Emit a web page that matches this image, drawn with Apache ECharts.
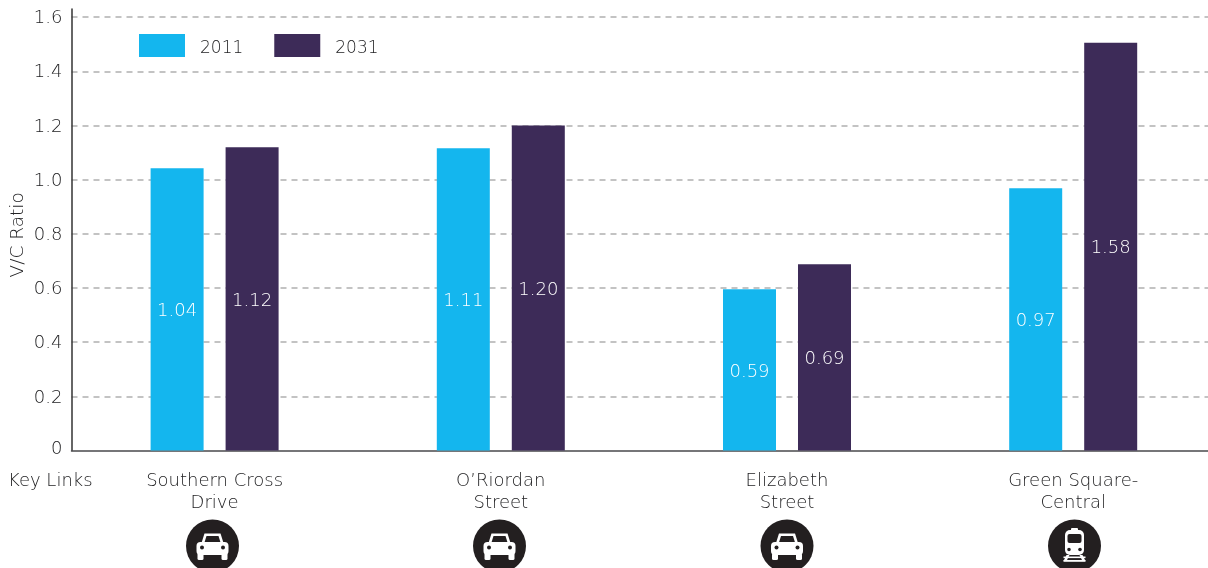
<!DOCTYPE html>
<html><head><meta charset="utf-8">
<style>html,body{margin:0;padding:0;background:#fff;overflow:hidden}#c{width:1208px;height:568px}</style>
<script src="https://cdn.jsdelivr.net/npm/echarts@6/dist/echarts.min.js"></script>
</head><body><div id="c"></div>
<script>
const categories = ["Southern Cross\nDrive", "O\u2019Riordan\nStreet", "Elizabeth\nStreet", "Green Square-\nCentral"];
const iconTypes = ["car", "car", "car", "train"];
const values2011 = [1.042, 1.116, 0.596, 0.968];
const values2031 = [1.12, 1.2, 0.688, 1.505];
const labels2011 = ["1.04", "1.11", "0.59", "0.97"];
const labels2031 = ["1.12", "1.20", "0.69", "1.58"];
const FONT = "'DejaVu Sans', sans-serif";
const WEIGHT = 200;
const TXT = "#222224", DARK = "#231f20";
const iconX = [212.5, 499.5, 787, 1074.5], iconY = 546;

function rect(x, y, w, h, r, fill) {
  return {type: 'rect', shape: {x, y, width: w, height: h, r: r || 0}, style: {fill}};
}
function circ(cx, cy, r, fill) {
  return {type: 'circle', shape: {cx, cy, r}, style: {fill}};
}
function poly(points, fill) {
  return {type: 'polygon', shape: {points}, style: {fill}};
}
function carIcon() {
  return [
    poly([[-11, -3], [-8, -12.5], [8, -12.5], [11, -3]], '#fff'),
    poly([[-8, -3.5], [-6, -10], [6, -10], [8, -3.5]], DARK),
    rect(-16, -4, 32, 13, 4, '#fff'),
    rect(-15, 7, 6, 7, 1.5, '#fff'),
    rect(9, 7, 6, 7, 1.5, '#fff'),
    circ(-10.5, 1.5, 2, DARK),
    circ(10.5, 1.5, 2, DARK)
  ];
}
function trainIcon() {
  return [
    rect(-3.5, -18, 7, 3, 1, '#fff'),
    rect(-9.5, -16, 19, 25, 5, '#fff'),
    rect(-7, -12, 14, 9, 2, DARK),
    circ(-5.5, 3.5, 1.8, DARK),
    circ(5.5, 3.5, 1.8, DARK),
    poly([[-8, 9], [-5, 9], [-8, 15], [-11, 15]], '#fff'),
    poly([[5, 9], [8, 9], [11, 15], [8, 15]], '#fff'),
    rect(-11, 10.5, 22, 1.6, 0, '#fff'),
    rect(-11, 14, 22, 1.8, 0, '#fff')
  ];
}
const icons = iconX.map((x, i) => ({
  type: 'group', x, y: iconY,
  children: [circ(0, 0, 26.5, DARK)].concat(iconTypes[i] === 'car' ? carIcon() : trainIcon())
}));

function barSeries(name, color, values, labels) {
  return {
    name, type: 'bar', data: values, barWidth: 53, barGap: '41.5%',
    itemStyle: {color},
    label: {
      show: true, position: 'inside', offset: [0, 2], color: '#fff', fontFamily: FONT, fontSize: 18, fontWeight: WEIGHT,
      formatter: p => labels[p.dataIndex]
    }
  };
}

const chart = echarts.init(document.getElementById('c'), null, {renderer: 'canvas'});
chart.setOption({
  animation: false,
  backgroundColor: '#fff',
  grid: {left: 71.5, top: 9, width: 1144.8, height: 441.6, containLabel: false, outerBoundsMode: 'none'},
  legend: {
    left: 139, top: 34, padding: 0, icon: 'rect', itemWidth: 46, itemHeight: 23, itemGap: 31, itemStyle: {borderWidth: 0},
    formatter: '{t|{name}}',
    textStyle: {
      color: TXT, fontFamily: FONT, fontSize: 17, fontWeight: WEIGHT, padding: [0, 0, 0, 10],
      rich: {t: {color: TXT, fontFamily: FONT, fontSize: 17, fontWeight: WEIGHT, padding: [6, 0, 0, 0]}}
    },
    data: ['2011', '2031']
  },
  xAxis: {
    type: 'category', data: categories,
    axisLine: {lineStyle: {color: '#4a4a4c', width: 1.5}},
    axisTick: {show: false},
    axisLabel: {
      interval: 0, color: TXT, fontFamily: FONT, fontSize: 18, fontWeight: WEIGHT,
      lineHeight: 22, margin: 20
    }
  },
  yAxis: {
    type: 'value', min: 0, max: 1.63, interval: 0.2,
    name: 'V/C Ratio', nameLocation: 'middle', nameGap: 44, nameRotate: 90, nameMoveOverlap: false,
    nameTextStyle: {color: TXT, fontFamily: FONT, fontSize: 18.5, fontWeight: WEIGHT, padding: [0, 10, 0, 0]},
    axisLine: {show: true, onZero: false, lineStyle: {color: '#333', width: 1.5}},
    axisTick: {show: false},
    splitLine: {show: true, showMinLine: false, showMaxLine: false,
      lineStyle: {color: '#b0b0b0', type: [6, 5], width: 1.5}},
    axisLabel: {
      showMaxLabel: false, color: TXT, fontFamily: FONT, fontSize: 18, fontWeight: WEIGHT, margin: 9,
      padding: [3, 0, 0, 0],
      formatter: v => v === 0 ? '{z|0}' : v.toFixed(1),
      rich: {z: {color: TXT, fontFamily: FONT, fontSize: 18, fontWeight: WEIGHT, padding: [0, 0, 5, 0]}}
    }
  },
  series: [
    barSeries('2011', '#14b6ee', values2011, labels2011),
    barSeries('2031', '#3d2b58', values2031, labels2031)
  ],
  graphic: [
    {type: 'text', left: 8, top: 472,
      style: {text: 'Key Links', fill: TXT, fontFamily: FONT, fontSize: 18, fontWeight: WEIGHT}}
  ].concat(icons)
});
</script></body></html>
